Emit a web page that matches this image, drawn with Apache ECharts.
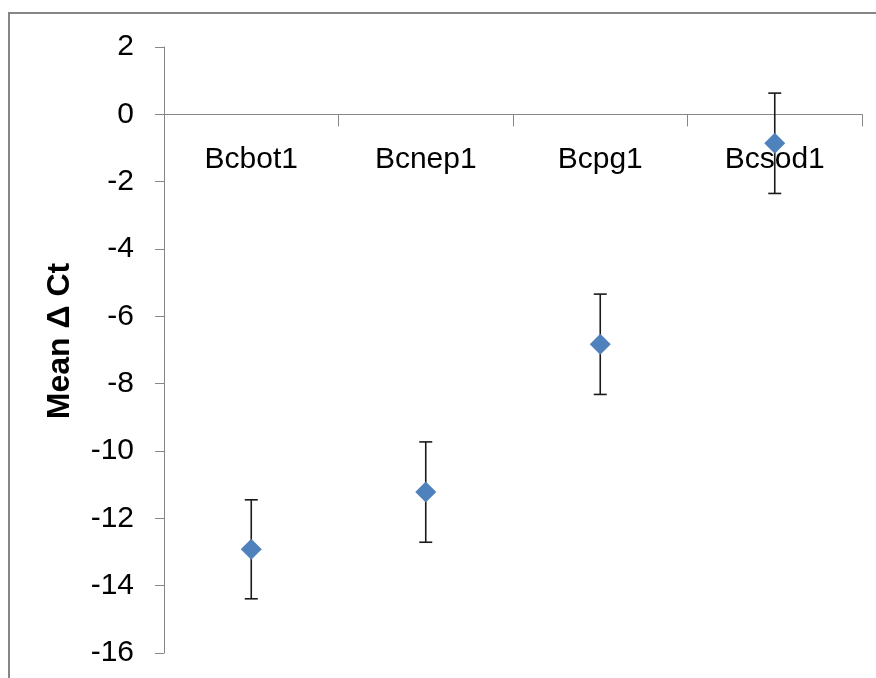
<!DOCTYPE html>
<html>
<head>
<meta charset="utf-8">
<script src="https://cdn.jsdelivr.net/npm/echarts@6/dist/echarts.min.js"></script>
<style>html,body{margin:0;padding:0;background:#fff}#c{width:876px;height:678px}</style>
</head>
<body>
<div id="c"></div>
<script>
var categories = ['Bcbot1', 'Bcnep1', 'Bcpg1', 'Bcsod1'];
var means = [-12.92, -11.22, -6.83, -0.86];
var errors = [1.47, 1.49, 1.49, 1.49];
var yTicks = [-16, -14, -12, -10, -8, -6, -4, -2, 0, 2];

var chart = echarts.init(document.getElementById('c'), null, {renderer: 'canvas'});
var font = '"Liberation Sans", Arial, sans-serif';
var errData = categories.map(function (c, i) { return [i, means[i] - errors[i], means[i] + errors[i]]; });
var labelData = categories.map(function (c, i) { return [i, 0]; });

chart.setOption({
  animation: false,
  backgroundColor: '#fff',
  graphic: [{
    type: 'rect', silent: true, z: 0,
    shape: {x: 9, y: 13, width: 900, height: 700},
    style: {fill: 'none', stroke: '#868686', lineWidth: 2}
  }],
  grid: {left: 164, right: 14, top: 47, bottom: 25, containLabel: false, outerBoundsMode: 'none'},
  xAxis: {
    type: 'category',
    data: categories,
    boundaryGap: true,
    axisLine: {onZero: true, lineStyle: {color: '#868686', width: 1}},
    axisTick: {show: true, length: 12, lineStyle: {color: '#868686'}, alignWithLabel: false},
    axisLabel: {show: false},
    splitLine: {show: false}
  },
  yAxis: {
    type: 'value',
    min: yTicks[0], max: yTicks[yTicks.length - 1], interval: 2,
    name: 'Mean \u0394 Ct',
    nameLocation: 'middle',
    nameGap: 88,
    nameTextStyle: {fontSize: 32, fontWeight: 'bold', color: '#000', fontFamily: font, padding: [0, 0, 0, 18]},
    axisLine: {show: true, lineStyle: {color: '#868686', width: 1}},
    axisTick: {show: true, length: 9, lineStyle: {color: '#868686'}},
    axisLabel: {margin: 30, fontSize: 30, color: '#000', fontFamily: font},
    splitLine: {show: false}
  },
  series: [{
    type: 'custom',
    data: labelData,
    z: 2,
    silent: true,
    renderItem: function (params, api) {
      var p = api.coord([api.value(0), api.value(1)]);
      return {type: 'text', x: p[0], y: p[1] + 45, style: {
        text: categories[api.value(0)], fill: '#000', fontSize: 30, fontFamily: font,
        align: 'center', verticalAlign: 'middle'}};
    }
  }, {
    type: 'custom',
    data: errData,
    z: 3,
    renderItem: function (params, api) {
      var x = api.value(0);
      var lo = api.coord([x, api.value(1)]);
      var hi = api.coord([x, api.value(2)]);
      var hw = 6.5;
      var st = {stroke: '#1a1a1a', lineWidth: 1.6};
      return {type: 'group', children: [
        {type: 'line', shape: {x1: lo[0], y1: lo[1], x2: hi[0], y2: hi[1]}, style: st},
        {type: 'line', shape: {x1: lo[0] - hw, y1: lo[1], x2: lo[0] + hw, y2: lo[1]}, style: st},
        {type: 'line', shape: {x1: hi[0] - hw, y1: hi[1], x2: hi[0] + hw, y2: hi[1]}, style: st}
      ]};
    }
  }, {
    type: 'scatter',
    data: means,
    symbol: 'diamond',
    symbolSize: [21, 21],
    z: 5,
    itemStyle: {color: '#4F81BD', opacity: 1}
  }]
});
</script>
</body>
</html>
